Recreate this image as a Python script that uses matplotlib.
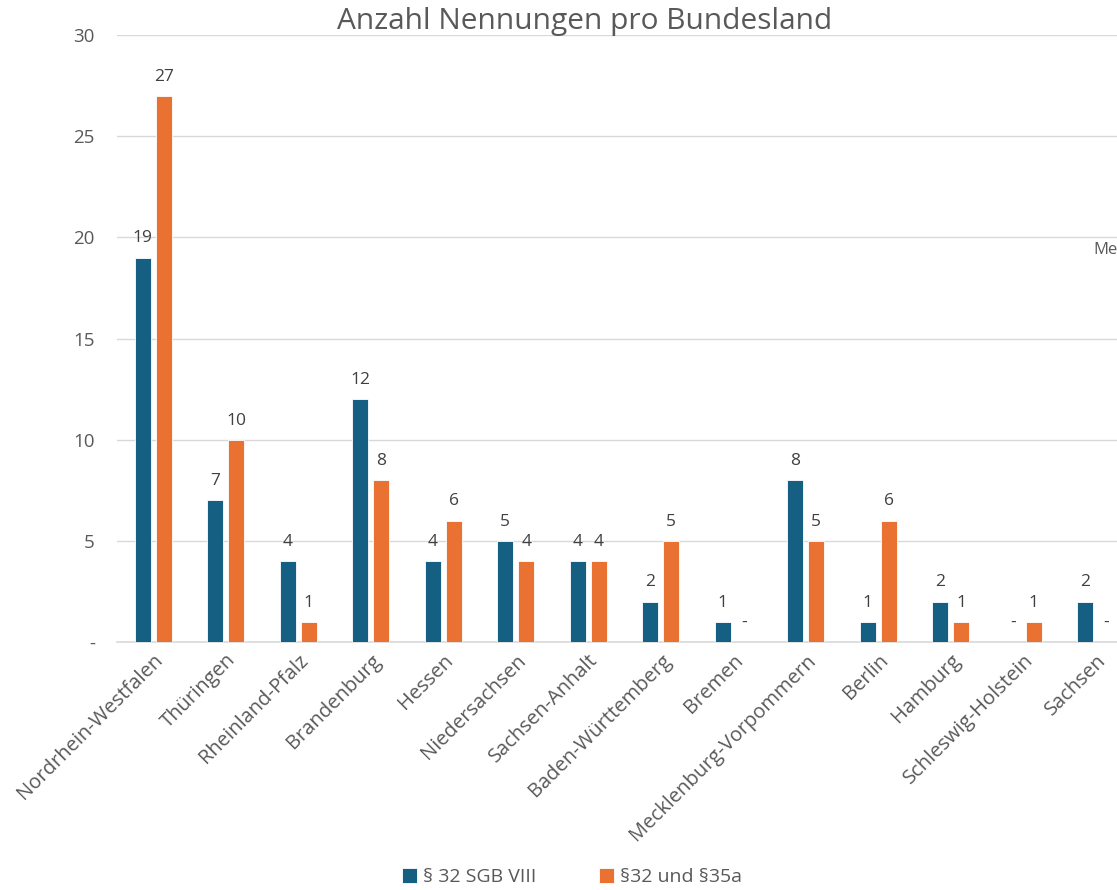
import matplotlib.pyplot as plt
import numpy as np

laender = ["Nordrhein-Westfalen", "Thüringen", "Rheinland-Pfalz", "Brandenburg",
           "Hessen", "Niedersachsen", "Sachsen-Anhalt", "Baden-Württemberg",
           "Bremen", "Mecklenburg-Vorpommern", "Berlin", "Hamburg",
           "Schleswig-Holstein", "Sachsen"]
sgb8 = [19, 7, 4, 12, 4, 5, 4, 2, 1, 8, 1, 2, 0, 2]
sgb8_35a = [27, 10, 1, 8, 6, 4, 4, 5, 0, 5, 6, 1, 1, 0]
serien = ["§ 32 SGB VIII", "§32 und §35a"]

plt.rcParams['font.family'] = ['Open Sans', 'DejaVu Sans']
blau = "#156082"
orange = "#E97132"
grau = "#595959"

W, H = 1117, 890
fig = plt.figure(figsize=(W / 100, H / 100), dpi=100)
# Diagramm ist rechts abgeschnitten, Achse laeuft ueber den Rand hinaus
ax = fig.add_axes([117 / W, 248 / H, 1015 / W, 607 / H])

x = np.arange(len(laender))
bw = 0.22
off = 0.145
b1 = ax.bar(x - off, sgb8, bw, color=blau, edgecolor="white", linewidth=0.6, label=serien[0], zorder=3)
b2 = ax.bar(x + off, sgb8_35a, bw, color=orange, edgecolor="white", linewidth=0.6, label=serien[1], zorder=3)

for bars, vals in ((b1, sgb8), (b2, sgb8_35a)):
    for r, v in zip(bars, vals):
        txt = str(v) if v else "-"
        ax.annotate(txt, (r.get_x() + r.get_width() / 2, v), xytext=(0, 8),
                    textcoords="offset points", ha="center", va="bottom",
                    fontsize=12.5, color="#404040")

ax.set_xlim(-0.5, len(laender) - 0.5)
ax.set_ylim(0, 30)
ax.set_yticks(range(0, 31, 5))
ax.set_yticklabels(["-"] + [str(v) for v in range(5, 31, 5)], fontsize=13.5, color=grau)
ax.yaxis.grid(True, color="#d9d9d9", linewidth=1)
ax.set_axisbelow(True)
for s in ["top", "right", "left"]:
    ax.spines[s].set_visible(False)
ax.spines["bottom"].set_color("#d9d9d9")
ax.spines["bottom"].set_linewidth(1.2)
ax.tick_params(axis="y", length=0, pad=16)
ax.tick_params(axis="x", length=0, pad=6)
ax.set_xticks(x)
ax.set_xticklabels(laender, rotation=45, ha="right", rotation_mode="anchor",
                   fontsize=14.5, color=grau)

fig.text(585 / W, 1 - 21 / H, "Anzahl Nennungen pro Bundesland", ha="center", va="center",
         fontsize=21.5, color=grau)
fig.text(1093 / W, 1 - 250 / H, "Me", ha="left", va="center", fontsize=12, color=grau)

fig.legend(loc="center", bbox_to_anchor=(572 / W, 1 - 877 / H), ncol=2, frameon=False,
           fontsize=14, handlelength=0.8, handleheight=0.8, handletextpad=0.3,
           columnspacing=3.2, labelcolor=grau)

fig.savefig("out.png", dpi=100)
